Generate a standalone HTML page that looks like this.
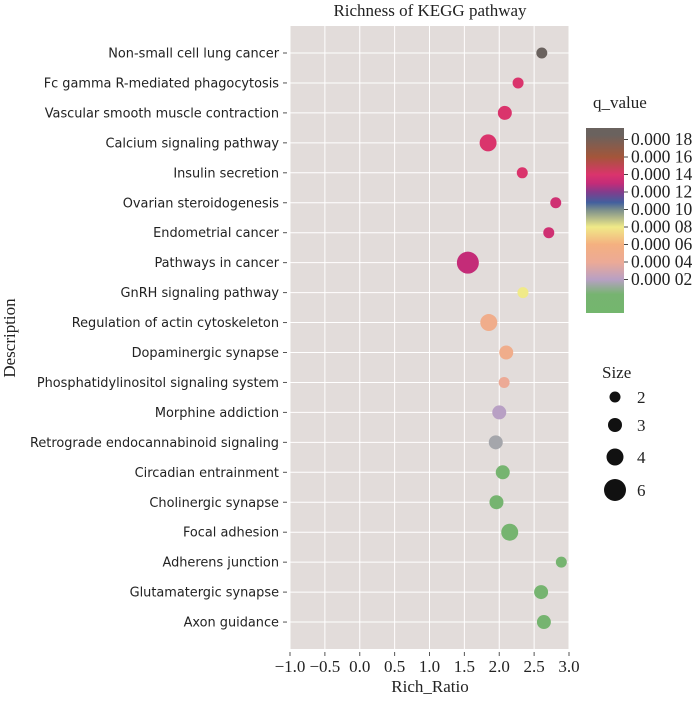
<!DOCTYPE html>
<html><head><meta charset="utf-8"><style>
body{margin:0;background:#fff;width:700px;height:697px;overflow:hidden}
svg text{fill:#222}
.ser{font-family:"Liberation Serif",serif}
.san{font-family:"DejaVu Sans","Liberation Sans",sans-serif}
</style></head><body>
<svg id="chart" width="700" height="697">
<defs><linearGradient id="cg" x1="0" y1="1" x2="0" y2="0"></linearGradient></defs>
<text class="ser" x="430" y="16" font-size="17" text-anchor="middle">Richness of KEGG pathway</text>
<rect x="290" y="26" width="279" height="623" fill="#e2dcda"/>
<g id="grid"></g><g id="yax"></g><g id="xax"></g><g id="pts"></g>
<text class="ser" x="430" y="692" font-size="17" text-anchor="middle">Rich_Ratio</text>
<text class="ser" x="0" y="0" font-size="17" text-anchor="middle" transform="translate(15,338) rotate(-90)">Description</text>
<text class="ser" x="593" y="108" font-size="17">q_value</text>
<rect x="586" y="128" width="38" height="185" fill="url(#cg)"/>
<g id="cbt"></g>
<text class="ser" x="602" y="378" font-size="17">Size</text>
<g id="sleg"></g>
</svg>
<script>
const categories=["Non-small cell lung cancer","Fc gamma R-mediated phagocytosis","Vascular smooth muscle contraction","Calcium signaling pathway","Insulin secretion","Ovarian steroidogenesis","Endometrial cancer","Pathways in cancer","GnRH signaling pathway","Regulation of actin cytoskeleton","Dopaminergic synapse","Phosphatidylinositol signaling system","Morphine addiction","Retrograde endocannabinoid signaling","Circadian entrainment","Cholinergic synapse","Focal adhesion","Adherens junction","Glutamatergic synapse","Axon guidance"];
const richRatio=[2.61,2.27,2.08,1.84,2.33,2.81,2.71,1.55,2.34,1.85,2.10,2.07,2.00,1.95,2.05,1.96,2.15,2.89,2.60,2.64];
const sizes=[2,2,3,4,2,2,2,6,2,4,3,2,3,3,3,3,4,2,3,3];
const qValues=[0.00019,0.00014,0.00014,0.00014,0.00014,0.000135,0.000135,0.00013,0.00008,0.00005,0.00005,0.00004,0.00002,0.000015,0.000002,0.000002,0.000002,0.000001,0.000002,0.000002];
const xTicks=[-1,-0.5,0,0.5,1,1.5,2,2.5,3];
const xTickLabels=["\u22121.0","\u22120.5","0.0","0.5","1.0","1.5","2.0","2.5","3.0"];
const cbTicks=[0.00002,0.00004,0.00006,0.00008,0.0001,0.00012,0.00014,0.00016,0.00018];
const cbTickLabels=["0.000 02","0.000 04","0.000 06","0.000 08","0.000 10","0.000 12","0.000 14","0.000 16","0.000 18"];
const legendSizes=[2,3,4,6];
const NS="http://www.w3.org/2000/svg";
const X=v=>290+(v+1)*69.75;
const Y=i=>53+i*29.95;
const R=s=>({2:5.5,3:7,4:8.5,6:11}[s]||4+s*1.2);
const CB=q=>297-q/0.00002*17.5;
const stops=[[-0.00002,[116,182,110]],[0.000003,[118,180,112]],[0.00002,[184,160,196]],[0.00004,[236,170,150]],[0.00006,[244,176,128]],[0.00008,[240,234,136]],[0.0001,[120,140,140]],[0.000108,[66,96,158]],[0.00012,[130,60,140]],[0.00013,[196,44,120]],[0.00014,[218,52,108]],[0.00016,[164,86,58]],[0.000185,[106,98,94]]];
function col(q){for(let i=1;i<stops.length;i++){if(q<=stops[i][0]){const a=stops[i-1],b=stops[i],t=(q-a[0])/(b[0]-a[0]);return "rgb("+a[1].map((c,k)=>Math.round(c+(b[1][k]-c)*t)).join(",")+")";}}return "rgb(106,98,94)";}
function mk(tag,at,parent){const e=document.createElementNS(NS,tag);for(const k in at)e.setAttribute(k,at[k]);parent.appendChild(e);return e;}
const cg=document.getElementById("cg");
stops.forEach(s=>{mk("stop",{offset:Math.max(0,Math.min(1,(313-CB(s[0]))/185)),"stop-color":"rgb("+s[1].join(",")+")"},cg);});
const g=document.getElementById("grid"),ya=document.getElementById("yax"),xa=document.getElementById("xax"),pts=document.getElementById("pts"),cbt=document.getElementById("cbt"),sl=document.getElementById("sleg");
xTicks.forEach((v,i)=>{
 const l=mk("line",{x1:X(v),x2:X(v),y1:26,y2:649,stroke:"#fff","stroke-width":1},g);
 
 
 mk("line",{x1:X(v),x2:X(v),y1:652,y2:656,stroke:"#555"},xa);
 const t=mk("text",{x:X(v),y:672,"font-size":17,"text-anchor":"middle",class:"ser"},xa);
 t.textContent=xTickLabels[i];
 
 
});
categories.forEach((c,i)=>{
 const l=mk("line",{x1:290,x2:569,y1:Y(i),y2:Y(i),stroke:"#fff","stroke-width":1},g);
 
 
 mk("line",{x1:283,x2:287,y1:Y(i),y2:Y(i),stroke:"#555"},ya);
 const t=mk("text",{x:279,y:Y(i)+4.5,"font-size":12.9,"text-anchor":"end",class:"san"},ya);
 t.textContent=c;
 
 
 const p=mk("circle",{cx:X(richRatio[i]),cy:Y(i),r:R(sizes[i]),fill:col(qValues[i])},pts);
 
 
});
cbTicks.forEach((q,i)=>{
 mk("line",{x1:624,x2:628,y1:CB(q),y2:CB(q),stroke:"#444"},cbt);
 const t=mk("text",{x:631,y:CB(q)+5.5,"font-size":17.5,class:"ser"},cbt);
 t.textContent=cbTickLabels[i];
 
 
});
const ly=[397,425,457,490];
legendSizes.forEach((s,i)=>{
 const c=mk("circle",{cx:615,cy:ly[i],r:R(s),fill:"#111"},sl);
 
 
 const t=mk("text",{x:637,y:ly[i]+6,"font-size":17,class:"ser"},sl);
 t.textContent=s;
 
 
});
</script>
</body></html>
